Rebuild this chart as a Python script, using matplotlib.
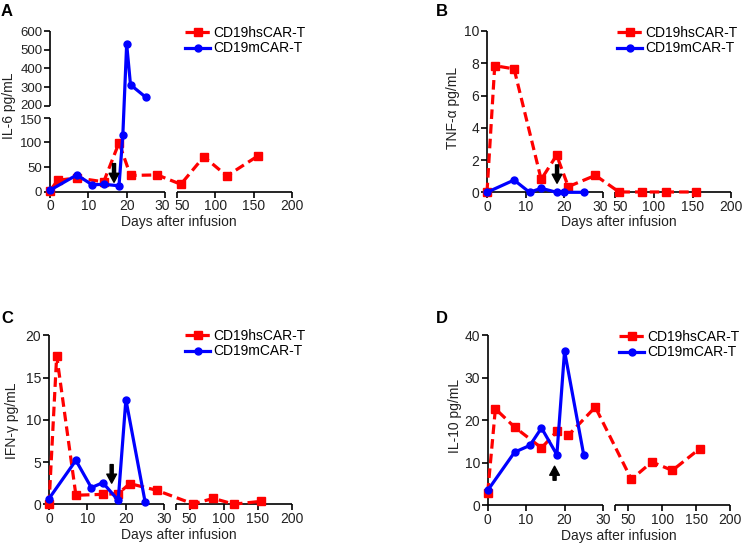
import numpy as np
import matplotlib
matplotlib.use("Agg")
import matplotlib.pyplot as plt
from matplotlib.transforms import ScaledTranslation

plt.rcParams["font.family"] = ["Liberation Sans", "DejaVu Sans"]
plt.rcParams["font.size"] = 10

W, H = 743, 544
RED = "#ff0000"
BLUE = "#0000ff"

# ---- data ----
hs_days = [0, 2, 7, 14, 18, 21, 28, 55, 85, 115, 155]
m_days_a = [0, 7, 11, 14, 18, 19, 20, 21, 25]
m_days = [0, 7, 11, 14, 18, 20, 25]

il6_hs = [2, 23, 28, 20, 99, 33, 34, 15, 71, 32, 72]
il6_m = [3, 34, 14, 15, 12, 115, 530, 312, 245]

tnf_hs = [0, 7.85, 7.65, 0.8, 2.3, 0.35, 1.05, 0.02, 0.02, 0.02, 0.02]
tnf_m = [0, 0.76, 0, 0.25, 0, 0, 0]

ifn_hs = [0, 17.6, 1.07, 1.18, 1.26, 2.45, 1.66, 0.05, 0.7, 0.02, 0.35]
ifn_m = [0.67, 5.2, 1.97, 2.56, 0.47, 12.4, 0.28]

il10_hs = [3.0, 22.7, 18.4, 13.5, 17.4, 16.5, 23.1, 6.1, 10.2, 8.2, 13.3]
il10_m = [3.5, 12.5, 14.1, 18.2, 11.9, 36.3, 11.8]


def piecewise(xp, fp):
    xp = np.asarray(xp, float)
    fp = np.asarray(fp, float)

    def f(v):
        v = np.asarray(v, float)
        out = np.interp(v, xp, fp)
        out = np.where(v < xp[0], fp[0] + (v - xp[0]) * (fp[1] - fp[0]) / (xp[1] - xp[0]), out)
        out = np.where(v > xp[-1], fp[-1] + (v - xp[-1]) * (fp[-1] - fp[-2]) / (xp[-1] - xp[-2]), out)
        return out
    return f


def px(x, y):
    return x / W, 1 - y / H


def nudge(label, dx, dy):
    # shift a tick label by dx, dy pixels
    label.set_transform(label.get_transform()
                        + ScaledTranslation(dx / 100, dy / 100, fig.dpi_scale_trans))


fig = plt.figure(figsize=(W / 100, H / 100), dpi=100)


def panel(box, s2, letter, letter_pos, ylab, ylab_pos, ylim, yticks,
          hs, md, mv, arrow, legend_pos, xlab_pos, ybreak=None, shift50=False):
    left, top, right, bottom = box
    ax = fig.add_axes([left / W, 1 - bottom / H, (right - left) / W, (bottom - top) / H])

    # broken x axis: 0-30 | s2-200
    ax.set_xscale("function", functions=(piecewise([0, 30, s2, 200], [0, 115, 127, 242]),
                                         piecewise([0, 115, 127, 242], [0, 30, s2, 200])))
    if ybreak:
        ax.set_yscale("function", functions=(piecewise([0, 150, 200, 600], [0, 74, 86, 160.7]),
                                             piecewise([0, 74, 86, 160.7], [0, 150, 200, 600])))
    ax.set_xlim(0, 200)
    ax.set_ylim(*ylim)

    for s in ax.spines.values():
        s.set_visible(False)
    kw = dict(color="black", lw=1.2, clip_on=False, solid_capstyle="butt")
    xt = ax.get_xaxis_transform()
    ax.plot([0, 30], [0, 0], transform=xt, **kw)
    ax.plot([s2, 200], [0, 0], transform=xt, **kw)
    yt = ax.get_yaxis_transform()
    if ybreak:
        ax.plot([0, 0], [0, 150], transform=yt, **kw)
        ax.plot([0, 0], [200, 600], transform=yt, **kw)
    else:
        ax.plot([0, 0], [0, ylim[1]], transform=yt, **kw)

    if s2 == 50:
        ticks = [0, 10, 20, 30, 50, 100, 150, 200]
        labels = ["0", "10", "20", "30", "50", "100", "150", "200"]
    else:
        ticks = [0, 10, 20, 30, s2, 50, 100, 150, 200]
        labels = ["0", "10", "20", "30", "", "50", "100", "150", "200"]
    ax.set_xticks(ticks)
    ax.set_xticklabels(labels)
    ax.set_yticks(yticks)
    ax.set_yticklabels([str(t) for t in yticks])
    ax.tick_params(direction="out", length=4, width=1.2, pad=1.5, labelsize=10,
                   labelcolor="#222222")
    if shift50:
        tl = ax.get_xticklabels()
        nudge(tl[3], -3, 0)
        nudge(tl[4], 5, 0)
    if ybreak:
        ax.tick_params(axis="y", labelsize=9.5)
        yl = ax.get_yticklabels()
        nudge(yl[3], 0, -1.5)
        nudge(yl[4], 0, 1.5)

    ax.plot(hs_days, hs, color=RED, lw=2.3, dashes=(3, 1.6), marker="s", ms=5.5,
            clip_on=False, label="CD19hsCAR-T", zorder=3)
    ax.plot(md, mv, color=BLUE, lw=2.3, marker="o", ms=5, clip_on=False,
            label="CD19mCAR-T", zorder=4)

    ax_x, y_tail, y_tip = arrow
    ax.annotate("", xy=(ax_x, y_tip), xytext=(ax_x, y_tail),
                arrowprops=dict(facecolor="black", edgecolor="black", width=2.2,
                                headwidth=7, headlength=6.5, shrink=0), zorder=5)

    ax.legend(loc="upper left", bbox_to_anchor=px(*legend_pos), bbox_transform=fig.transFigure,
              frameon=False, borderpad=0, borderaxespad=0, handlelength=1.8,
              handletextpad=0.2, labelspacing=0.1, fontsize=10)

    fig.text(*px(*letter_pos), letter, fontsize=12, fontweight="bold", ha="left", va="top")
    fig.text(*px(*ylab_pos), ylab, fontsize=10, rotation=90, ha="center", va="center",
             color="#222222")
    fig.text(*px(*xlab_pos), "Days after infusion", fontsize=10, ha="center", va="center",
             color="#222222")
    return ax


panel((50, 31, 292, 191.7), 50, "A", (1, 4), "IL-6 pg/mL", (9, 106), (0, 600),
      [0, 50, 100, 150, 200, 300, 400, 500, 600], il6_hs, m_days_a, il6_m,
      (16.7, 57, 19), (185, 26), (179, 222), ybreak=True, shift50=True)

panel((487, 31, 731.3, 192.3), 50, "B", (436, 4), "TNF-α pg/mL", (453, 108), (0, 10),
      [0, 2, 4, 6, 8, 10], tnf_hs, m_days, tnf_m,
      (18.1, 1.7, 0.56), (617, 26), (619, 222), shift50=True)

panel((49, 335.3, 291.7, 504.3), 30.5, "C", (1, 311), "IFN-γ pg/mL", (12, 421), (0, 20),
      [0, 5, 10, 15, 20], ifn_hs, m_days, ifn_m,
      (16.3, 4.7, 2.5), (185, 329), (179, 535))

panel((487.7, 335.3, 730.3, 505.3), 31, "D", (436, 311), "IL-10 pg/mL", (455, 416), (0, 40),
      [0, 10, 20, 30, 40], il10_hs, m_days, il10_m,
      (17.4, 5.9, 9.2), (619, 330), (619, 536))

fig.savefig("out.png", dpi=100)
